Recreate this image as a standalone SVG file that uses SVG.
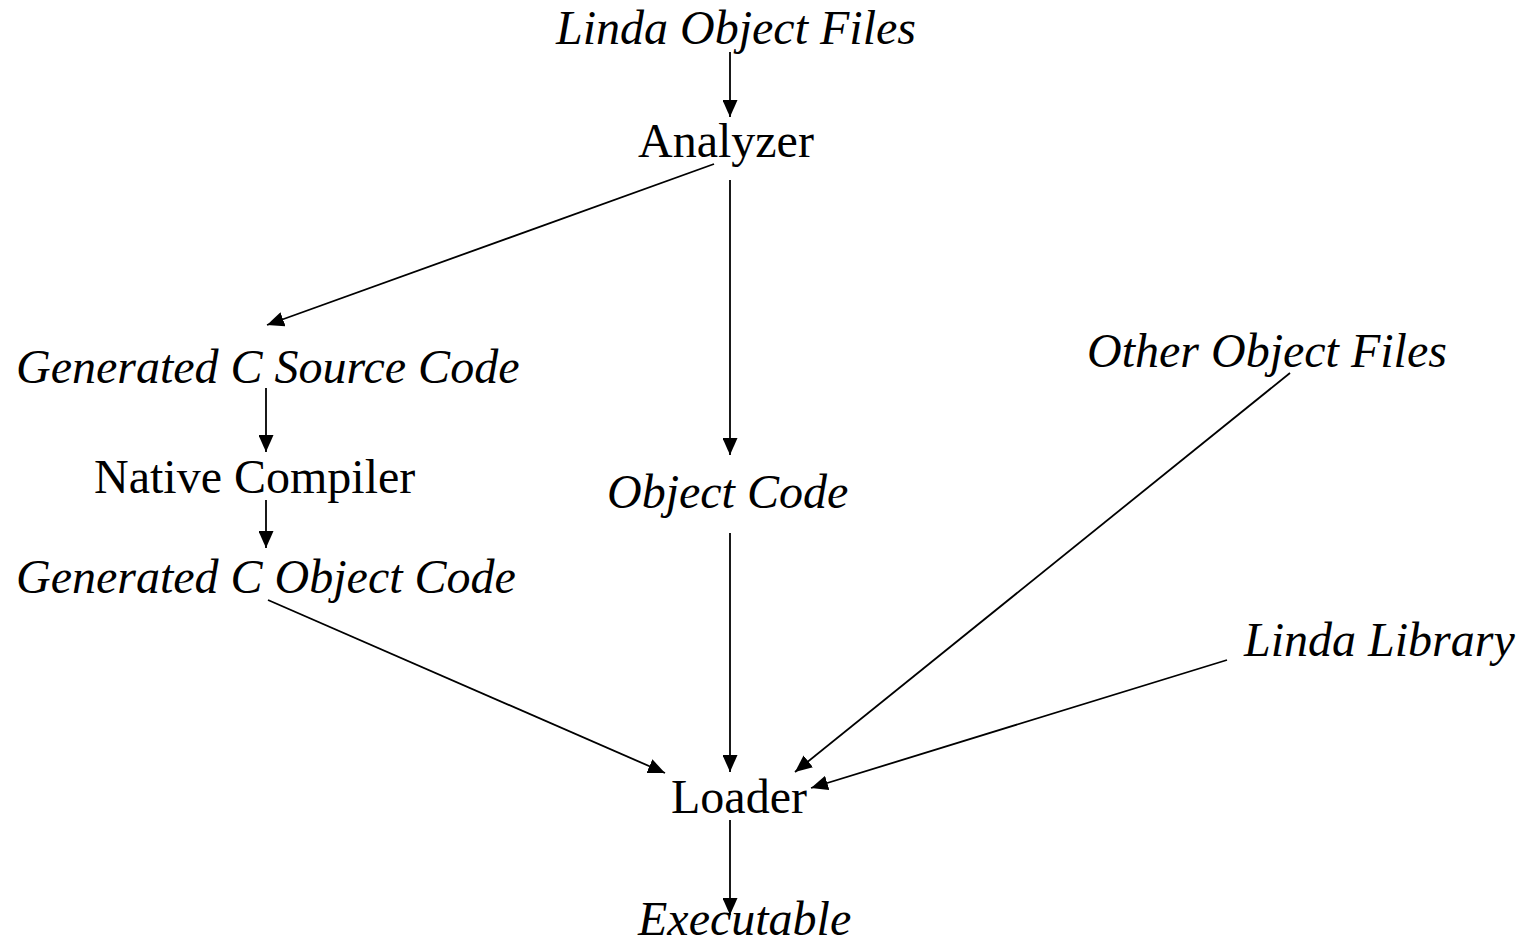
<svg xmlns="http://www.w3.org/2000/svg" width="1524" height="944" viewBox="0 0 1524 944">
<style>
text { font-family: "Liberation Serif", "Times New Roman", serif; font-size: 48px; fill: #000; }
.it { font-style: italic; }
.edge { stroke: #000; stroke-width: 1.8; fill: none; marker-end: url(#ah); }
</style>
<defs>
<marker id="ah" markerUnits="userSpaceOnUse" markerWidth="18" markerHeight="15" refX="17" refY="7.5" orient="auto">
<path d="M0,0 L17,7.5 L0,15 Z" fill="#000"/>
</marker>
</defs>
<rect width="1524" height="944" fill="#fff"/>
<g id="connectors">
<line class="edge" x1="730" y1="52" x2="730" y2="117"/>
<line class="edge" x1="714" y1="164" x2="267" y2="325"/>
<line class="edge" x1="730" y1="180" x2="730" y2="455"/>
<line class="edge" x1="266" y1="388" x2="266" y2="452"/>
<line class="edge" x1="266" y1="500" x2="266" y2="548"/>
<line class="edge" x1="268" y1="600" x2="665" y2="773"/>
<line class="edge" x1="730" y1="533" x2="730" y2="772"/>
<line class="edge" x1="1290" y1="373" x2="795" y2="772"/>
<line class="edge" x1="1227" y1="660" x2="811" y2="788"/>
<line class="edge" x1="730" y1="820" x2="730" y2="915"/>
</g>
<g id="linda-object-files"><text class="it" x="556" y="44">Linda Object Files</text></g>
<g id="analyzer"><text x="638" y="157">Analyzer</text></g>
<g id="generated-c-source"><text class="it" x="16" y="383">Generated C Source Code</text></g>
<g id="native-compiler"><text x="94" y="493">Native Compiler</text></g>
<g id="generated-c-object"><text class="it" x="16" y="593">Generated C Object Code</text></g>
<g id="object-code"><text class="it" x="607" y="508">Object Code</text></g>
<g id="other-object-files"><text class="it" x="1087" y="367">Other Object Files</text></g>
<g id="linda-library"><text class="it" x="1244" y="656">Linda Library</text></g>
<g id="loader"><text x="671" y="813">Loader</text></g>
<g id="executable"><text class="it" x="638" y="935">Executable</text></g>
</svg>
